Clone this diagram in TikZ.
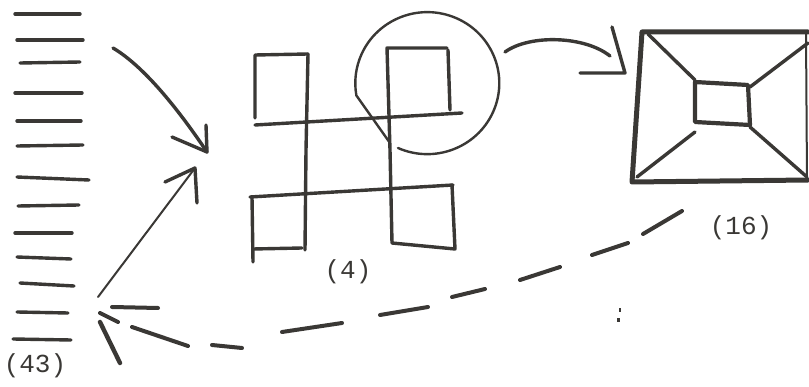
\documentclass[tikz,border=0pt]{standalone}
\usepackage{fontspec}
\newfontfamily\typew{Liberation Mono}
\definecolor{ink}{HTML}{3A3835}
\begin{document}
\begin{tikzpicture}[x=1pt,y=-1pt,
  stroke/.style={draw=ink,line width=3.4pt,line cap=round,line join=round},
  thick stroke/.style={stroke,line width=5pt},
  thin stroke/.style={stroke,line width=2pt},
  lab/.style={font=\typew\fontsize{26}{26}\selectfont,text=ink,inner sep=0pt}]
\useasboundingbox[fill=white] (0,0) rectangle (809,387);

% ---- stack of 43 (left) ----
\foreach \xa/\ya/\xb/\yb in {15/14/80/14, 17/40/83/40, 20/63/80/62, 15/93/82/93,
  17/121/81/121, 17/146/83/145, 17/177/89/180, 18/206/79/205, 15/233/72/233,
  17/257/71/259, 20/283/74/286, 17/312/68/313, 13/339/71/340}
  \draw[stroke] (\xa,\ya) -- (\xb,\yb);
\node[lab] (l43) at (35,366) {(43)};
\coordinate (stackTop) at (113,48);
\coordinate (stackBot) at (98,297);

% ---- figure (4) ----
\draw[stroke] (255,118) -- (255,55) -- (308,54);
\draw[stroke] (308,54) -- (306,150) -- (305,250);
\draw[stroke] (255,125) -- (462,113);
\draw[stroke] (447,48) -- (387,48) -- (390,150) -- (392,243) -- (455,249) -- (452,185);
\draw[stroke] (448,50) -- (450,110);
\draw[stroke] (250,197) -- (453,185);
\draw[stroke] (252,197) -- (253,262);
\draw[stroke] (253,249) -- (302,248);
\node[lab] (l4) at (348,272) {(4)};
\coordinate (fourIn) at (207,152);
\coordinate (fourIn2) at (195,168);

% circle
\draw[thin stroke,line width=2.4pt] (398,148) arc[start angle=114,end angle=-190,x radius=72,y radius=71] -- (390,143);
\coordinate (circOut) at (505,52);

% ---- figure (16) ----
\draw[thick stroke] (808,32) -- (642,32) -- (632,182) -- (808,180);
\draw[thin stroke] (806,33) -- (807,180);
\draw[thick stroke,line width=4.2pt] (695,82) -- (748,85) -- (750,125) -- (695,122) -- cycle;
\draw[stroke] (648,34) -- (695,80);
\draw[stroke] (808,43) -- (750,87);
\draw[stroke] (637,177) -- (695,132);
\draw[stroke] (807,177) -- (750,127);
\node[lab] (l16) at (741,228) {(16)};
\coordinate (sqIn) at (625,73);
\coordinate (sqOut) at (682,211);

% ---- connectors ----
% stack -> (4)
\draw[stroke] (stackTop) .. controls (140,64) and (172,100) .. (fourIn);
\draw[stroke] (172,137) -- (fourIn) -- (206,125);
\draw[thin stroke] (stackBot) -- (fourIn2);
\draw[stroke] (165,182) -- (fourIn2) -- (197,203);
% circle -> (16)
\draw[stroke] (circOut) .. controls (530,34) and (585,36) .. (610,56);
\draw[stroke] (612,27) -- (sqIn) -- (580,73);
% (16) -> stack, dashed
\draw[stroke,line width=4pt] (sqOut) -- (643,234) (628,243) -- (592,255)
  (560,267) -- (520,280) (485,289) -- (452,297) (428,307) -- (380,315)
  (342,323) -- (282,332) (242,348) -- (212,345) (188,346) -- (132,327)
  (118,322) -- (100,313);
\coordinate (stackIn) at (100,313);
\draw[stroke,line width=4pt] (112,307) -- (158,308);
\draw[stroke,line width=4.4pt] (stackIn) ++(0,9) -- (120,363);

% stray marks
\fill[ink] (618.5,308) rectangle (621,312);
\fill[ink] (617,318) rectangle (619.5,322);
\end{tikzpicture}
\end{document}
